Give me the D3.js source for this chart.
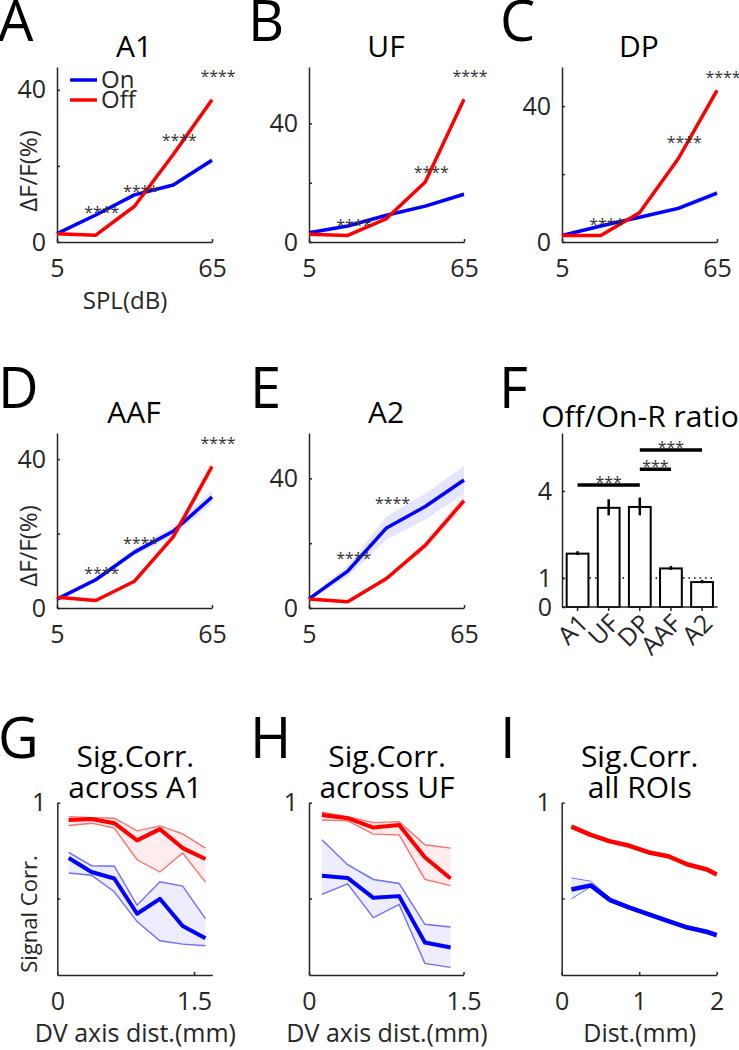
<!DOCTYPE html>
<html>
<head>
<meta charset="utf-8">
<script src="https://cdn.jsdelivr.net/npm/d3@7"></script>
<style>
  body { margin: 0; background: #fff; }
  svg { font-family: 'Open Sans', sans-serif; }
  .axis path, .axis line { stroke: #262626; stroke-width: 1.5; }
  .axis text { fill: #262626; font-size: 25px; font-family: 'Open Sans', sans-serif; }
</style>
</head>
<body>
<div id="chart"></div>
<script>
// Sound level (dB SPL) for panels A-E
const splLevels = [5, 20, 35, 50, 65]

// Mean dF/F (%) and s.e.m. per area
const onA1 = [2.2, 7.1, 12.4, 15.0, 21.5]
const offA1 = [2.2, 1.8, 9.4, 23.0, 37.4]
const onA1Err = [0.2, 0.3, 0.4, 0.5, 0.7]
const offA1Err = [0.2, 0.2, 0.4, 0.6, 0.9]

const onUF = [3.1, 5.4, 9.0, 12.1, 16.1]
const offUF = [2.6, 2.2, 7.9, 20.2, 48.1]
const onUFErr = [0.2, 0.3, 0.4, 0.6, 0.8]
const offUFErr = [0.2, 0.2, 0.4, 0.6, 1.0]

const onDP = [1.9, 4.7, 7.3, 9.9, 14.4]
const offDP = [1.9, 1.9, 8.6, 24.5, 44.6]
const onDPErr = [0.2, 0.3, 0.5, 0.7, 1.0]
const offDPErr = [0.2, 0.2, 0.4, 0.7, 1.2]

const onAAF = [2.4, 7.6, 15.0, 20.6, 29.8]
const offAAF = [2.9, 2.0, 7.2, 19.1, 38.0]
const onAAFErr = [0.3, 0.6, 1.0, 1.3, 1.8]
const offAAFErr = [0.2, 0.2, 0.4, 0.9, 1.6]

const onA2 = [2.8, 11.4, 24.7, 31.3, 39.5]
const offA2 = [2.8, 1.9, 9.1, 19.3, 33.1]
const onA2Err = [0.4, 1.8, 3.6, 4.0, 4.3]
const offA2Err = [0.3, 0.3, 0.8, 1.2, 2.0]

// Significance stars: level and height (dF/F) per panel
const starsA1X = [20, 35, 50, 65], starsA1Y = [8.8, 14.3, 27.5, 44.4]
const starsUFX = [20, 50, 65], starsUFY = [6.7, 24.7, 56.9]
const starsDPX = [20, 50, 65], starsDPY = [6.1, 30.4, 49.5]
const starsAAFX = [20, 35, 65], starsAAFY = [10.1, 18.3, 45.0]
const starsA2X = [20, 35], starsA2Y = [16.5, 33.2]

// Panel F: Off/On response ratio
const ratioAreas = ['A1', 'UF', 'DP', 'AAF', 'A2']
const ratioMean = [1.84, 3.42, 3.45, 1.33, 0.86]
const ratioErr = [0.05, 0.26, 0.29, 0.05, 0.04]
const sigFrom = ['A1', 'DP', 'DP']
const sigTo = ['DP', 'AAF', 'A2']
const sigLevel = [4.21, 4.75, 5.41]

// Panel G: signal correlation across A1
const distA1 = [0.125, 0.375, 0.625, 0.875, 1.125, 1.375, 1.625]
const offCorrA1 = [0.91, 0.915, 0.893, 0.803, 0.862, 0.763, 0.706]
const offCorrA1Hi = [0.927, 0.922, 0.919, 0.853, 0.879, 0.837, 0.763]
const offCorrA1Lo = [0.881, 0.893, 0.867, 0.702, 0.638, 0.737, 0.585]
const onCorrA1 = [0.711, 0.638, 0.604, 0.42, 0.498, 0.356, 0.292]
const onCorrA1Hi = [0.74, 0.671, 0.668, 0.465, 0.587, 0.564, 0.394]
const onCorrA1Lo = [0.633, 0.621, 0.535, 0.379, 0.279, 0.261, 0.253]

// Panel H: signal correlation across UF
const distUF = [0.125, 0.375, 0.625, 0.875, 1.125, 1.375]
const offCorrUF = [0.936, 0.919, 0.87, 0.884, 0.715, 0.604]
const offCorrUFHi = [0.95, 0.927, 0.896, 0.901, 0.78, 0.763]
const offCorrUFLo = [0.91, 0.905, 0.836, 0.832, 0.599, 0.567]
const onCorrUF = [0.619, 0.607, 0.503, 0.512, 0.27, 0.244]
const onCorrUFHi = [0.806, 0.676, 0.599, 0.578, 0.365, 0.351]
const onCorrUFLo = [0.521, 0.576, 0.4, 0.469, 0.161, 0.14]

// Panel I: signal correlation, all ROIs
const distAll = [0.125, 0.375, 0.625, 0.875, 1.125, 1.375, 1.625, 1.875, 2.0]
const offCorrAll = [0.875, 0.832, 0.798, 0.775, 0.74, 0.72, 0.677, 0.651, 0.625]
const offCorrAllHi = [0.882, 0.838, 0.804, 0.781, 0.746, 0.726, 0.683, 0.657, 0.631]
const offCorrAllLo = [0.868, 0.826, 0.792, 0.769, 0.734, 0.714, 0.671, 0.645, 0.619]
const onCorrAll = [0.547, 0.568, 0.491, 0.452, 0.417, 0.382, 0.348, 0.325, 0.308]
const onCorrAllHi = [0.607, 0.59, 0.5, 0.46, 0.425, 0.39, 0.356, 0.335, 0.318]
const onCorrAllLo = [0.498, 0.56, 0.482, 0.444, 0.409, 0.374, 0.34, 0.315, 0.298]

const blue = '#0000ff'
const red = '#ff0000'

const svg = d3
  .select('#chart')
  .append('svg')
  .attr('width', 739)
  .attr('height', 1050)

svg.append('rect').attr('width', 739).attr('height', 1050).attr('fill', '#fff')

function panelLetter(letter, x, y) {
  svg
    .append('text')
    .attr('x', x)
    .attr('y', y)
    .attr('font-size', 56)
    .attr('fill', '#000')
    .text(letter)
}

function title(lines, cx, y) {
  lines.forEach((t, i) => {
    svg
      .append('text')
      .attr('x', cx)
      .attr('y', y + i * 31)
      .attr('text-anchor', 'middle')
      .attr('font-size', 30)
      .attr('fill', '#000')
      .text(t)
  })
}

function styleAxis(g) {
  g.attr('class', 'axis')
  g.select('.domain').attr('fill', 'none')
}

// Panels A-E: response vs. sound level
function levelPanel(p) {
  const x = d3.scaleLinear().domain([5, 65]).range([p.left, p.left + 155])
  const y = d3.scaleLinear().domain([0, p.yMax]).range([p.bottom, p.bottom - 175])

  svg
    .append('g')
    .attr('transform', 'translate(0,' + p.bottom + ')')
    .call(d3.axisBottom(x).tickValues([5, 65]).tickSize(-3).tickSizeOuter(0).tickPadding(17))
    .call(styleAxis)

  svg
    .append('g')
    .attr('transform', 'translate(' + p.left + ',0)')
    .call(
      d3
        .axisLeft(y)
        .tickValues([0, 20, 40])
        .tickSize(-3)
        .tickSizeOuter(0)
        .tickPadding(11)
        .tickFormat(d => (d === 20 ? '' : d))
    )
    .call(styleAxis)

  const band = d3
    .area()
    .x((d, i) => x(splLevels[i]))
    .y0(d => y(d[0] - d[1]))
    .y1(d => y(d[0] + d[1]))
  const line = d3
    .line()
    .x((d, i) => x(splLevels[i]))
    .y(d => y(d))

  const series = [
    { mean: p.on, err: p.onErr, color: blue, fill: 'rgba(0,0,255,0.1)' },
    { mean: p.off, err: p.offErr, color: red, fill: 'rgba(255,0,0,0.1)' }
  ]
  series.forEach(s => {
    svg
      .append('path')
      .datum(s.mean.map((m, i) => [m, s.err[i]]))
      .attr('d', band)
      .attr('fill', s.fill)
  })
  series.forEach(s => {
    svg
      .append('path')
      .datum(s.mean)
      .attr('d', line)
      .attr('fill', 'none')
      .attr('stroke', s.color)
      .attr('stroke-width', 3.5)
      .attr('stroke-linejoin', 'round')
  })

  svg
    .selectAll(null)
    .data(p.starsX)
    .enter()
    .append('text')
    .attr('x', d => x(d) + 6)
    .attr('y', (d, i) => y(p.starsY[i]) + 9)
    .attr('text-anchor', 'middle')
    .attr('font-size', 16)
    .attr('fill', '#333')
    .text('****')

  title([p.title], p.left + 77, p.titleY)
}

levelPanel({ left: 57, bottom: 242, yMax: 46, on: onA1, off: offA1, onErr: onA1Err, offErr: offA1Err, starsX: starsA1X, starsY: starsA1Y, title: 'A1', titleY: 57 })
levelPanel({ left: 309, bottom: 242, yMax: 59, on: onUF, off: offUF, onErr: onUFErr, offErr: offUFErr, starsX: starsUFX, starsY: starsUFY, title: 'UF', titleY: 57 })
levelPanel({ left: 562, bottom: 242, yMax: 51.5, on: onDP, off: offDP, onErr: onDPErr, offErr: offDPErr, starsX: starsDPX, starsY: starsDPY, title: 'DP', titleY: 57 })
levelPanel({ left: 57, bottom: 608, yMax: 47, on: onAAF, off: offAAF, onErr: onAAFErr, offErr: offAAFErr, starsX: starsAAFX, starsY: starsAAFY, title: 'AAF', titleY: 423 })
levelPanel({ left: 309, bottom: 608, yMax: 54, on: onA2, off: offA2, onErr: onA2Err, offErr: offA2Err, starsX: starsA2X, starsY: starsA2Y, title: 'A2', titleY: 423 })

// Legend in panel A
const legend = [
  { label: 'On', color: blue, y: 80 },
  { label: 'Off', color: red, y: 100 }
]
legend.forEach(l => {
  svg.append('line').attr('x1', 70).attr('x2', 97).attr('y1', l.y).attr('y2', l.y)
    .attr('stroke', l.color).attr('stroke-width', 3.5)
  svg.append('text').attr('x', 101).attr('y', l.y + 8).attr('font-size', 24).attr('fill', '#262626').text(l.label)
})

// Axis labels, rows 1 and 2
svg.append('text').attr('x', 125).attr('y', 309).attr('text-anchor', 'middle')
  .attr('font-size', 24).attr('fill', '#262626').text('SPL(dB)')
;[171, 546].forEach(cy => {
  svg.append('text').attr('transform', 'translate(37,' + cy + ') rotate(-90)')
    .attr('text-anchor', 'middle').attr('font-size', 24).attr('fill', '#262626').text('ΔF/F(%)')
})

// Panel F: ratio bars
const fLeft = 562
const fBottom = 607
const xBar = d3.scaleBand().domain(ratioAreas).range([fLeft, fLeft + 155.6]).paddingInner(0.3).paddingOuter(0.15)
const yRatio = d3.scaleLinear().domain([0, 6]).range([fBottom, fBottom - 174])

svg
  .append('g')
  .attr('transform', 'translate(' + fLeft + ',0)')
  .call(d3.axisLeft(yRatio).tickValues([0, 1, 4]).tickSize(-3).tickSizeOuter(0).tickPadding(10).tickFormat(d => d))
  .call(styleAxis)

svg
  .append('line')
  .attr('x1', fLeft)
  .attr('x2', 715)
  .attr('y1', yRatio(1))
  .attr('y2', yRatio(1))
  .attr('stroke', '#000')
  .attr('stroke-width', 1.5)
  .attr('stroke-dasharray', '1.5,4')

svg
  .selectAll('.ratio-bar')
  .data(ratioMean)
  .enter()
  .append('rect')
  .attr('class', 'ratio-bar')
  .attr('x', (d, i) => xBar(ratioAreas[i]))
  .attr('width', xBar.bandwidth())
  .attr('y', d => yRatio(d))
  .attr('height', d => fBottom - yRatio(d))
  .attr('fill', '#fff')
  .attr('stroke', '#000')
  .attr('stroke-width', 2)

svg
  .selectAll('.ratio-err')
  .data(ratioMean)
  .enter()
  .append('line')
  .attr('class', 'ratio-err')
  .attr('x1', (d, i) => xBar(ratioAreas[i]) + xBar.bandwidth() / 2)
  .attr('x2', (d, i) => xBar(ratioAreas[i]) + xBar.bandwidth() / 2)
  .attr('y1', (d, i) => yRatio(d - ratioErr[i]))
  .attr('y2', (d, i) => yRatio(d + ratioErr[i]) - 1)
  .attr('stroke', '#000')
  .attr('stroke-width', 2.5)

const xAxisF = svg
  .append('g')
  .attr('transform', 'translate(0,' + fBottom + ')')
  .call(d3.axisBottom(xBar).tickSize(4).tickSizeOuter(0).tickFormat(''))
  .call(styleAxis)
xAxisF.select('.domain').attr('d', 'M' + fLeft + ',0H' + (fLeft + 155.6))

ratioAreas.forEach(a => {
  const cx = xBar(a) + xBar.bandwidth() / 2
  svg
    .append('text')
    .attr('transform', 'translate(' + (cx + 12) + ',625) rotate(-45)')
    .attr('text-anchor', 'end')
    .attr('font-size', 25)
    .attr('fill', '#262626')
    .text(a)
})

sigLevel.forEach((lv, i) => {
  const x1 = xBar(sigFrom[i]) + xBar.bandwidth() / 2
  const x2 = xBar(sigTo[i]) + xBar.bandwidth() / 2
  svg.append('line').attr('x1', x1).attr('x2', x2).attr('y1', yRatio(lv)).attr('y2', yRatio(lv))
    .attr('stroke', '#000').attr('stroke-width', 3.5)
  svg.append('text').attr('x', (x1 + x2) / 2).attr('y', yRatio(lv) + 3).attr('text-anchor', 'middle')
    .attr('font-size', 16).attr('fill', '#333').text('***')
})

title(['Off/On-R ratio'], 640, 427)

// Panels G-I: signal correlation vs. distance
function corrPanel(p) {
  const x = d3.scaleLinear().domain([0, p.xMax]).range([p.left, p.left + p.width])
  const y = d3.scaleLinear().domain([0.1, 1]).range([975, 802.7])

  svg
    .append('g')
    .attr('transform', 'translate(0,975)')
    .call(d3.axisBottom(x).tickValues(p.xTicks).tickSize(-3).tickSizeOuter(0).tickPadding(17).tickFormat(d => d))
    .call(styleAxis)

  svg
    .append('g')
    .attr('transform', 'translate(' + p.left + ',0)')
    .call(
      d3
        .axisLeft(y)
        .tickValues([0.5, 1])
        .tickSize(-3)
        .tickSizeOuter(0)
        .tickPadding(11)
        .tickFormat(d => (d === 1 ? '1' : ''))
    )
    .call(styleAxis)

  const series = [
    { mean: p.on, hi: p.onHi, lo: p.onLo, color: blue, edge: '#6e6eff', fill: 'rgba(0,0,255,0.07)' },
    { mean: p.off, hi: p.offHi, lo: p.offLo, color: red, edge: '#ff6e6e', fill: 'rgba(255,0,0,0.07)' }
  ]
  const area = d3
    .area()
    .x((d, i) => x(p.dist[i]))
    .y0(d => y(d[0]))
    .y1(d => y(d[1]))
  const line = d3
    .line()
    .x((d, i) => x(p.dist[i]))
    .y(d => y(d))

  series.forEach(s => {
    svg.append('path').datum(s.lo.map((v, i) => [v, s.hi[i]])).attr('d', area).attr('fill', s.fill)
    ;[s.hi, s.lo].forEach(b => {
      svg.append('path').datum(b).attr('d', line).attr('fill', 'none')
        .attr('stroke', s.edge).attr('stroke-width', p.edgeWidth)
    })
    svg.append('path').datum(s.mean).attr('d', line).attr('fill', 'none')
      .attr('stroke', s.color).attr('stroke-width', p.meanWidth).attr('stroke-linejoin', 'round')
  })

  title(p.title, p.left + 78, 767)
  svg.append('text').attr('x', p.left + 78).attr('y', 1042).attr('text-anchor', 'middle')
    .attr('font-size', 25).attr('fill', '#262626').text(p.xLabel)
}

corrPanel({ left: 57.3, width: 155, xMax: 1.7, xTicks: [0, 1.5], dist: distA1, on: onCorrA1, onHi: onCorrA1Hi, onLo: onCorrA1Lo, off: offCorrA1, offHi: offCorrA1Hi, offLo: offCorrA1Lo, edgeWidth: 1.4, meanWidth: 4, title: ['Sig.Corr.', 'across A1'], xLabel: 'DV axis dist.(mm)' })
corrPanel({ left: 309, width: 154.5, xMax: 1.5, xTicks: [0, 1.5], dist: distUF, on: onCorrUF, onHi: onCorrUFHi, onLo: onCorrUFLo, off: offCorrUF, offHi: offCorrUFHi, offLo: offCorrUFLo, edgeWidth: 1.4, meanWidth: 4, title: ['Sig.Corr.', 'across UF'], xLabel: 'DV axis dist.(mm)' })
corrPanel({ left: 561.7, width: 155, xMax: 2, xTicks: [0, 1, 2], dist: distAll, on: onCorrAll, onHi: onCorrAllHi, onLo: onCorrAllLo, off: offCorrAll, offHi: offCorrAllHi, offLo: offCorrAllLo, edgeWidth: 1, meanWidth: 4.5, title: ['Sig.Corr.', 'all ROIs'], xLabel: 'Dist.(mm)' })

svg.append('text').attr('transform', 'translate(37,914) rotate(-90)')
  .attr('text-anchor', 'middle').attr('font-size', 22).attr('fill', '#262626').text('Signal Corr.')

// Panel letters
panelLetter('A', -2, 41)
panelLetter('B', 248, 41)
panelLetter('C', 500, 41)
panelLetter('D', -2, 408)
panelLetter('E', 250, 408)
panelLetter('F', 499, 408)
panelLetter('G', -2, 758)
panelLetter('H', 250, 758)
panelLetter('I', 500, 758)
</script>
</body>
</html>
